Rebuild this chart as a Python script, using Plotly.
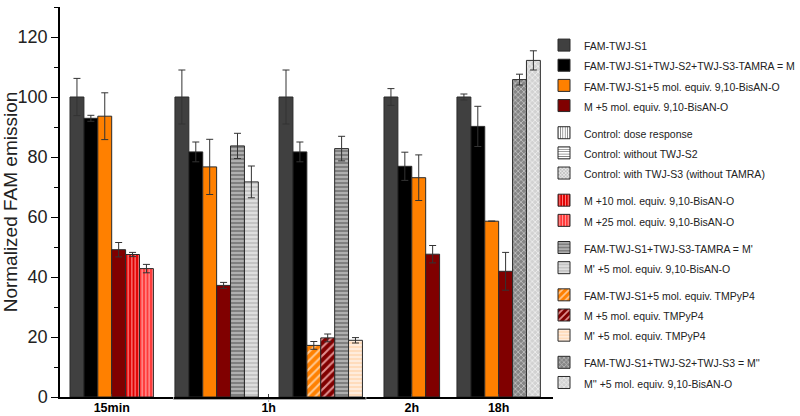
import plotly.graph_objects as go

# ---------------- data ----------------
group_labels = ["15min", "1h", "2h", "18h"]
subgroups = ["15min", "1h-a", "1h-b", "2h", "18h"]

fam_s1 = [100, 100, 100, 100, 100]
fam_s1_err = [6.2, 9.0, 9.0, 2.8, 1.0]
m_full = [92.9, 81.7, 81.7, 76.9, 90.2]
m_full_err = [1.0, 3.3, 3.3, 4.7, 6.7]
fam_bis5 = [93.6, 76.7, None, 73.1, 58.6]
fam_bis5_err = [7.8, 9.2, None, 7.6, None]
m_bis5 = [49.1, 37.2, None, 47.6, 41.9]
m_bis5_err = [2.4, 1.0, None, 2.9, 6.3]
m_bis10 = [47.5, None, None, None, None]
m_bis10_err = [0.7, None, None, None, None]
m_bis25 = [42.8, None, None, None, None]
m_bis25_err = [1.4, None, None, None, None]
mp = [None, 83.7, 82.8, None, None]
mp_err = [None, 4.2, 4.1, None, None]
mp_bis5 = [None, 71.7, None, None, None]
mp_bis5_err = [None, 5.3, None, None, None]
fam_tmp5 = [None, None, 17.2, None, None]
fam_tmp5_err = [None, None, 1.3, None, None]
m_tmp5 = [None, None, 19.7, None, None]
m_tmp5_err = [None, None, 1.3, None, None]
mp_tmp5 = [None, None, 18.9, None, None]
mp_tmp5_err = [None, None, 0.9, None, None]
mpp = [None, None, None, None, 105.8]
mpp_err = [None, None, None, None, 1.8]
mpp_bis5 = [None, None, None, None, 112.2]
mpp_bis5_err = [None, None, None, None, 3.2]

# ---------------- layout constants ----------------
SUB_START = [0.72, 8.27, 15.76, 23.31, 28.56]   # subgroup start, in bar widths
X_MAX = 35.47
FONT = "Arial, Liberation Sans, sans-serif"
LEG_TXT = 10.5

def lab(s):
    return f'<span style="font-size:{LEG_TXT}px">{s}</span>'

# (name, values, errors, slot, bg, fg, shape, pattern size, legendgroup)
series = [
    ("FAM-TWJ-S1", fam_s1, fam_s1_err, 0, "#404040", None, "", 0, "g1"),
    ("FAM-TWJ-S1+TWJ-S2+TWJ-S3-TAMRA = M", m_full, m_full_err, 1, "#000000", None, "", 0, "g1"),
    ("FAM-TWJ-S1+5 mol. equiv. 9,10-BisAN-O", fam_bis5, fam_bis5_err, 2, "#FF8000", None, "", 0, "g1"),
    ("M +5 mol. equiv. 9,10-BisAN-O", m_bis5, m_bis5_err, 3, "#800000", None, "", 0, "g1"),
    ("Control: dose response", None, None, 0, "#FFFFFF", "#808080", "|", 3, "g2"),
    ("Control: without TWJ-S2", None, None, 0, "#FFFFFF", "#808080", "-", 3, "g2"),
    ("Control: with TWJ-S3 (without TAMRA)", None, None, 0, "#E8E8E8", "#A0A0A0", "x", 3, "g2"),
    ("M +10 mol. equiv. 9,10-BisAN-O", m_bis10, m_bis10_err, 4, "#E00000", "#FF8A8A", "|", 3.5, "g3"),
    ("M +25 mol. equiv. 9,10-BisAN-O", m_bis25, m_bis25_err, 5, "#FF3838", "#FFA0A0", "|", 3.5, "g3"),
    ("FAM-TWJ-S1+TWJ-S3-TAMRA = M'", mp, mp_err, 4, "#7F7F7F", "#C4C4C4", "-", 4, "g4"),
    ("M' +5 mol. equiv. 9,10-BisAN-O", mp_bis5, mp_bis5_err, 5, "#C4C4C4", "#EAEAEA", "-", 4, "g4"),
    ("FAM-TWJ-S1+5 mol. equiv. TMPyP4", fam_tmp5, fam_tmp5_err, 2, "#FF8000", "#FFC890", "/", 6, "g5"),
    ("M +5 mol. equiv. TMPyP4", m_tmp5, m_tmp5_err, 3, "#800000", "#E09090", "/", 6, "g5"),
    ("M' +5 mol. equiv. TMPyP4", mp_tmp5, mp_tmp5_err, 5, "#FFDCBC", "#FFF4EA", "-", 4, "g5"),
    ("FAM-TWJ-S1+TWJ-S2+TWJ-S3 = M''", mpp, mpp_err, 4, "#858585", "#C8C8C8", "x", 4, "g6"),
    ("M'' +5 mol. equiv. 9,10-BisAN-O", mpp_bis5, mpp_bis5_err, 5, "#D2D2D2", "#F2F2F2", "x", 4, "g6"),
]

fig = go.Figure()
for name, vals, errs, slot, bg, fg, shape, psize, grp in series:
    if vals is None:
        xs, ys, es = [None], [None], None
    else:
        xs, ys, es = [], [], []
        for i, v in enumerate(vals):
            if v is None:
                continue
            xs.append(SUB_START[i] + slot + 0.5)
            ys.append(v)
            es.append(errs[i])
    marker = dict(color=bg, line=dict(color="#2a2a2a", width=1))
    if shape:
        marker["pattern"] = dict(shape=shape, fgcolor=fg, bgcolor=bg, size=psize,
                                 solidity=0.35, fillmode="replace")
    tr = go.Bar(x=xs, y=ys, width=1.0, name=lab(name), legendgroup=grp,
                marker=marker, showlegend=True)
    if es is not None and any(e is not None for e in es):
        tr.error_y = dict(type="data", array=es, visible=True, color="#333333",
                          thickness=1, width=3.5)
    fig.add_trace(tr)

group_centers = [
    SUB_START[0] + 3,
    (SUB_START[1] + SUB_START[2] + 6) / 2,
    SUB_START[3] + 2,
    SUB_START[4] + 3,
]

# bracket under the 1h group
bx0 = SUB_START[1] - 0.1
bx1 = SUB_START[2] + 6 + 0.25
yb = -2.5 / 390
fig.add_shape(type="path", xref="x", yref="paper",
              path=f"M {bx0},0 L {bx0},{yb} L {bx1},{yb} L {bx1},0",
              line=dict(color="#AAAAAA", width=1))
fig.add_shape(type="line", xref="x", yref="paper", x0=group_centers[1], x1=group_centers[1],
              y0=yb, y1=-5 / 390, line=dict(color="#AAAAAA", width=1))

fig.update_layout(
    width=800, height=416,
    margin=dict(l=60, r=247, t=7, b=19, autoexpand=False),
    paper_bgcolor="white", plot_bgcolor="white",
    barmode="overlay",
    font=dict(family=FONT, color="#222222"),
    showlegend=True,
    legend=dict(x=(544 - 60) / 493, y=1 - (30 - 7) / 390, xanchor="left", yanchor="top",
                bgcolor="rgba(0,0,0,0)", borderwidth=0,
                font=dict(size=13.2, family=FONT, color="#222222"),
                traceorder="grouped", tracegroupgap=7),
    xaxis=dict(range=[0, X_MAX], showline=True, linecolor="#000000", linewidth=1.5,
               tickvals=group_centers, ticktext=[f"<b>{g}</b>" for g in group_labels],
               ticks="inside", ticklen=3, tickcolor="#444444",
               ticklabelstandoff=-2,
               tickfont=dict(size=12.5, family=FONT, color="#000000"),
               showgrid=False, zeroline=False, fixedrange=True),
    yaxis=dict(range=[0, 130], showline=True, linecolor="#000000", linewidth=1.5,
               tickvals=[0, 20, 40, 60, 80, 100, 120],
               ticks="outside", ticklen=7, tickwidth=1.2, tickcolor="#000000",
               minor=dict(tickvals=[10, 30, 50, 70, 90, 110, 130], ticks="outside", ticklen=4,
                          tickwidth=1.2, tickcolor="#000000"),
               tickfont=dict(size=18, family=FONT, color="#222222"),
               title=dict(text="Normalized FAM emission", font=dict(size=19, family=FONT, color="#222222"),
                          standoff=6),
               showgrid=False, zeroline=False),
)

fig.write_html(
    "out.html",
    config={"displayModeBar": False},
    post_script="document.body.style.margin='0';document.body.style.overflow='hidden';",
)
